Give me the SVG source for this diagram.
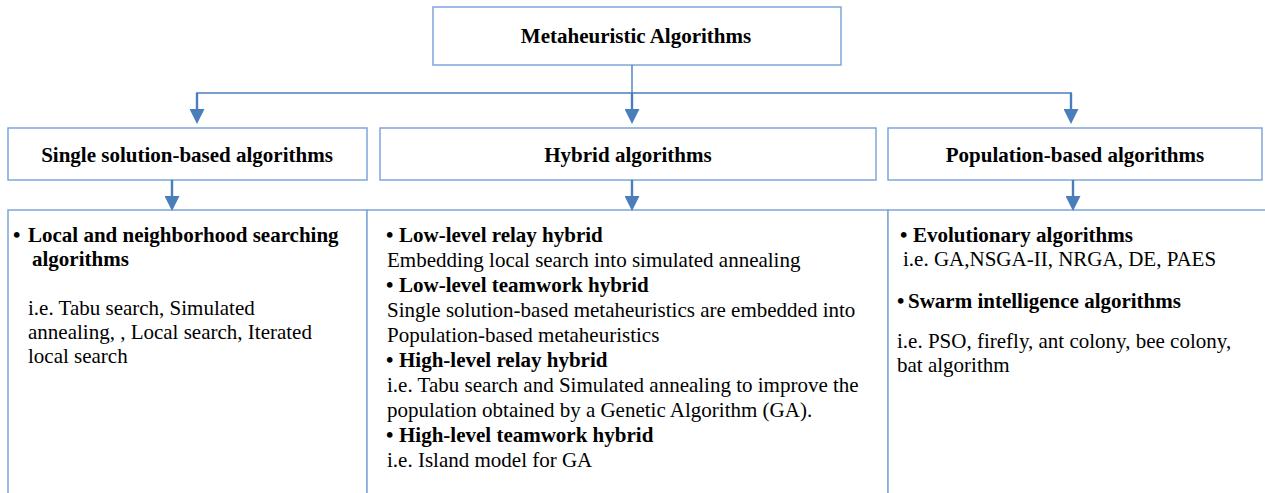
<svg xmlns="http://www.w3.org/2000/svg" width="1265" height="493" viewBox="0 0 1265 493">
<style>
.box{fill:#ffffff;stroke:#7fa6da;stroke-width:1.5}
.ln{fill:none;stroke:#4a7ebb;stroke-width:1.4}
.sh{fill:none;stroke:#4a7ebb;stroke-width:2.4}
.t{font-family:"Liberation Serif","Times New Roman",serif;font-size:21px;fill:#000}
.b{font-weight:bold}
.c{text-anchor:middle}
</style>
<defs>
<marker id="ah" markerUnits="userSpaceOnUse" markerWidth="15" markerHeight="15" viewBox="0 0 15 15" refX="0" refY="7.5" orient="auto">
<path d="M0 0 L15 7.5 L0 15 Z" fill="#4a7ebb"/>
</marker>
</defs>
<rect width="1265" height="493" fill="#ffffff"/>

<g id="node-metaheuristic">
<rect class="box" x="433" y="7" width="408" height="58"/>
<text class="t b c" x="636" y="43">Metaheuristic Algorithms</text>
</g>

<g id="node-single">
<rect class="box" x="8" y="128" width="359" height="52"/>
<text class="t b c" x="187" y="162">Single solution-based algorithms</text>
</g>

<g id="node-hybrid">
<rect class="box" x="380" y="128" width="496" height="52"/>
<text class="t b c" x="628" y="162">Hybrid algorithms</text>
</g>

<g id="node-population">
<rect class="box" x="888" y="128" width="374" height="52"/>
<text class="t b c" x="1075" y="162">Population-based algorithms</text>
</g>

<g id="node-single-detail">
<rect class="box" x="8" y="210" width="359" height="300"/>
<text class="t b" x="13" y="242">•</text>
<text class="t b" x="28" y="242">Local and neighborhood searching</text>
<text class="t b" x="32" y="266">algorithms</text>
<text class="t" x="28" y="315">i.e. Tabu search, Simulated</text>
<text class="t" x="28" y="339">annealing, , Local search, Iterated</text>
<text class="t" x="28" y="363">local search</text>
</g>

<g id="node-hybrid-detail">
<rect class="box" x="367" y="210" width="521" height="300"/>
<text class="t b" x="386" y="242">•</text>
<text class="t b" x="399" y="242">Low-level relay hybrid</text>
<text class="t" x="387" y="267">Embedding local search into simulated annealing</text>
<text class="t b" x="386" y="292">•</text>
<text class="t b" x="399" y="292">Low-level teamwork hybrid</text>
<text class="t" x="387" y="317">Single solution-based metaheuristics are embedded into</text>
<text class="t" x="387" y="342">Population-based metaheuristics</text>
<text class="t b" x="386" y="367">•</text>
<text class="t b" x="399" y="367">High-level relay hybrid</text>
<text class="t" x="387" y="392">i.e. Tabu search and Simulated annealing to improve the</text>
<text class="t" x="387" y="417">population obtained by a Genetic Algorithm (GA).</text>
<text class="t b" x="386" y="442">•</text>
<text class="t b" x="399" y="442">High-level teamwork hybrid</text>
<text class="t" x="387" y="467">i.e. Island model for GA</text>
</g>

<g id="node-population-detail">
<rect class="box" x="888" y="210" width="390" height="300"/>
<text class="t b" x="900" y="242">•</text>
<text class="t b" x="913" y="242">Evolutionary algorithms</text>
<text class="t" x="903" y="266">i.e. GA,NSGA-II, NRGA, DE, PAES</text>
<text class="t b" x="897" y="308">•</text>
<text class="t b" x="908" y="308">Swarm intelligence algorithms</text>
<text class="t" x="897" y="348">i.e. PSO, firefly, ant colony, bee colony,</text>
<text class="t" x="897" y="372">bat algorithm</text>
</g>

<g id="connectors">
<path class="ln" d="M632 65 V93"/>
<path class="ln" d="M196 93 H1072"/>
<path class="sh" d="M197 93 V109" marker-end="url(#ah)"/>
<path class="sh" d="M632 93 V109" marker-end="url(#ah)"/>
<path class="sh" d="M1071 93 V109" marker-end="url(#ah)"/>
<path class="sh" d="M172 180 V196" marker-end="url(#ah)"/>
<path class="sh" d="M632 180 V196" marker-end="url(#ah)"/>
<path class="sh" d="M1073 180 V196" marker-end="url(#ah)"/>
</g>
</svg>
